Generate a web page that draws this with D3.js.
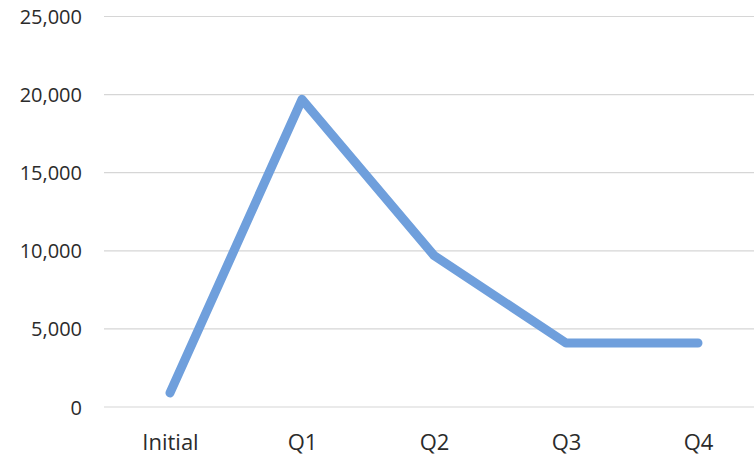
<!DOCTYPE html>
<html>
<head>
<meta charset="utf-8">
<script src="https://cdn.jsdelivr.net/npm/d3@7"></script>
<style>
  html, body { margin: 0; padding: 0; background: #ffffff; }
  svg { display: block; }
  text { font-family: "Open Sans", Lato, sans-serif; fill: #2b2b2b; }
</style>
</head>
<body>
<svg id="chart" width="754" height="458"></svg>
<script>
const categories = ["Initial", "Q1", "Q2", "Q3", "Q4"];
const values = [900, 19700, 9700, 4100, 4100];
const yTicks = [0, 5000, 10000, 15000, 20000, 25000];

const svg = d3.select("#chart");
const plot = { left: 104, right: 764, top: 16.5, bottom: 407 };

const x = d3.scalePoint().domain(categories).range([plot.left, plot.right]).padding(0.5);
const y = d3.scaleLinear().domain([0, 25000]).range([plot.bottom, plot.top]);

// gridlines
svg.append("g")
  .selectAll("line")
  .data(yTicks)
  .join("line")
  .attr("x1", plot.left)
  .attr("x2", plot.right)
  .attr("y1", d => y(d))
  .attr("y2", d => y(d))
  .attr("stroke", "#d6d6d6")
  .attr("stroke-width", 1.2);

// y axis labels
const yAxis = d3.axisLeft(y).tickValues(yTicks).tickFormat(d3.format(",")).tickSize(0).tickPadding(0);
const gy = svg.append("g").attr("transform", "translate(82,0)").call(yAxis);
gy.select(".domain").remove();
gy.selectAll("text").style("font-size", "20px").attr("dy", "0.35em").attr("fill", "#2b2b2b");

// x axis labels
const xAxis = d3.axisBottom(x).tickSize(0).tickPadding(0);
const gx = svg.append("g").attr("transform", "translate(0,442)").call(xAxis);
gx.select(".domain").remove();
gx.selectAll("text").style("font-size", "22px").attr("dy", "0.35em").attr("fill", "#2b2b2b");

// line
const line = d3.line().x((d, i) => x(categories[i])).y(d => y(d));
svg.append("path")
  .datum(values)
  .attr("d", line)
  .attr("fill", "none")
  .attr("stroke", "#6f9fdc")
  .attr("stroke-width", 9)
  .attr("stroke-linecap", "round")
  .attr("stroke-linejoin", "round");
</script>
</body>
</html>
